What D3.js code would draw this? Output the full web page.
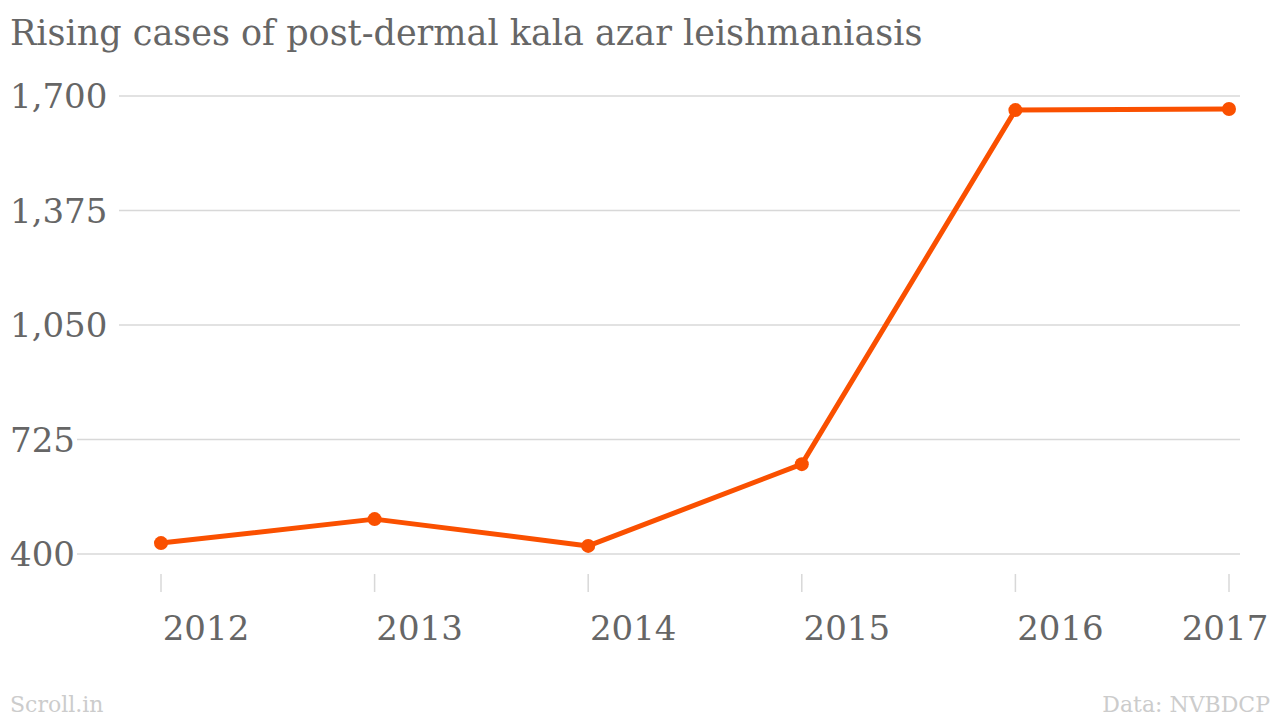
<!DOCTYPE html>
<html><head><meta charset="utf-8">
<script src="https://cdn.jsdelivr.net/npm/d3@7"></script>
<style>body{margin:0;background:#fff}</style>
</head><body>
<svg id="viz" width="1280" height="720"></svg>
<script>
const years = ["2012","2013","2014","2015","2016","2017"];
const cases = [431, 499, 423, 655, 1660, 1663];
const yTicks = [400, 725, 1050, 1375, 1700];

const FONT = "'DejaVu Serif', 'Liberation Serif', serif";
const svg = d3.select("#viz").style("font-family", FONT);

const x = d3.scalePoint().domain(years).range([161, 1229]);
const y = d3.scaleLinear().domain([400, 1700]).range([554, 96]);

svg.append("text").attr("x", 10).attr("y", 45)
  .attr("font-size", 35).attr("fill", "#666")
  .text("Rising cases of post-dermal kala azar leishmaniasis");

// grid + y labels
const gy = svg.append("g");
gy.selectAll("line").data(yTicks).join("line")
  .attr("x1", 10).attr("x2", 1240)
  .attr("y1", d => y(d)).attr("y2", d => y(d))
  .attr("stroke", "#d8d8d8").attr("stroke-width", 1.5);
gy.selectAll("rect").data(yTicks).join("rect")
  .attr("x", 8).attr("y", d => y(d) - 22).attr("width", d => d3.format(",")(d).length * 21 + 6).attr("height", 44)
  .attr("fill", "#fff");
gy.selectAll("text").data(yTicks).join("text")
  .attr("x", 10).attr("y", d => y(d) + 12)
  .attr("font-size", 34).attr("fill", "#666")
  .text(d => d3.format(",")(d));

// x ticks
const gx = svg.append("g");
gx.selectAll("line").data(years).join("line")
  .attr("x1", d => x(d)).attr("x2", d => x(d))
  .attr("y1", 574).attr("y2", 592)
  .attr("stroke", "#d8d8d8").attr("stroke-width", 1.5);
gx.selectAll("text").data(years).join("text")
  .attr("x", (d, i) => i === years.length - 1 ? x(d) - 4 : x(d) + 45)
  .attr("y", 640).attr("text-anchor", (d, i) => i === years.length - 1 ? "middle" : "middle")
  .attr("font-size", 34).attr("fill", "#666")
  .text(d => d);

const data = years.map((yr, i) => ({yr, v: cases[i]}));
svg.append("path").datum(data)
  .attr("fill", "none").attr("stroke", "#fa5000").attr("stroke-width", 5)
  .attr("stroke-linejoin", "round")
  .attr("d", d3.line().x(d => x(d.yr)).y(d => y(d.v)));
svg.selectAll("circle.dot").data(data).join("circle")
  .attr("class", "dot").attr("cx", d => x(d.yr)).attr("cy", d => y(d.v))
  .attr("r", 7).attr("fill", "#fa5000");

svg.append("text").attr("x", 10).attr("y", 712).attr("font-size", 22).attr("fill", "#ccc").text("Scroll.in");
svg.append("text").attr("x", 1270).attr("y", 712).attr("text-anchor", "end").attr("font-size", 22).attr("fill", "#ccc").text("Data: NVBDCP");
</script>
</body></html>
